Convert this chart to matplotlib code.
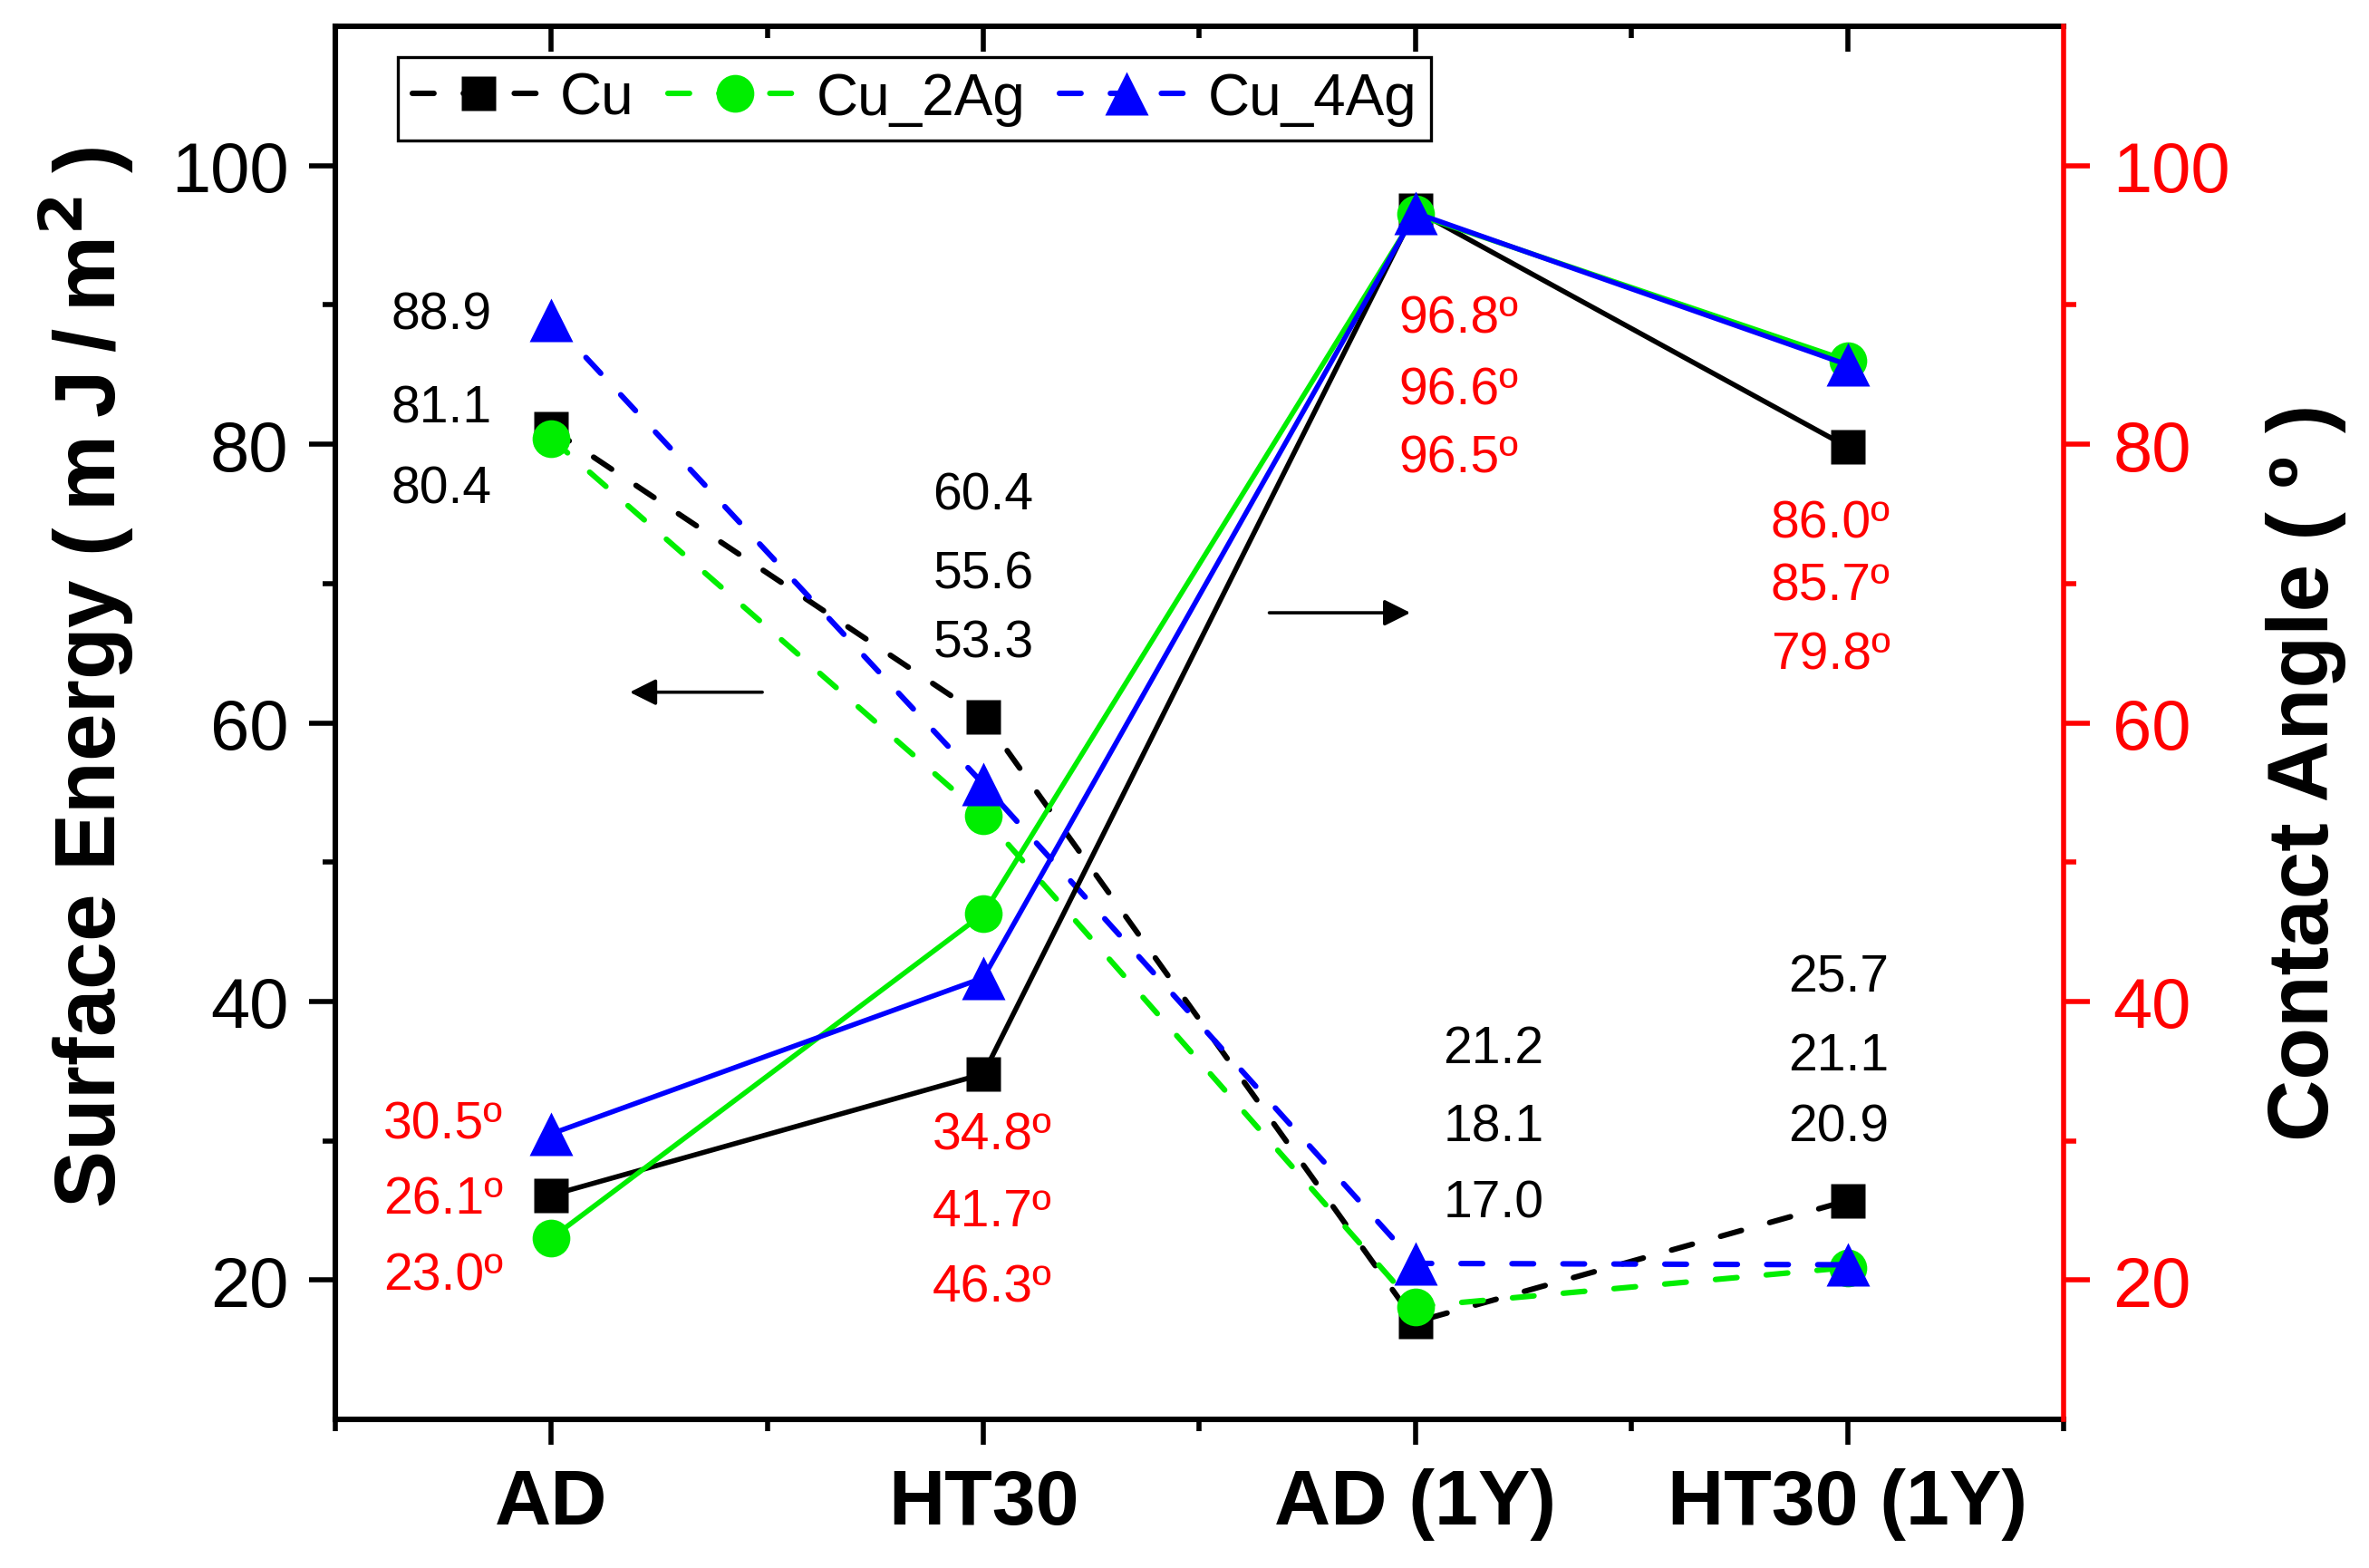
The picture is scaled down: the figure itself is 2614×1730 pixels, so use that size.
import numpy as np
import matplotlib
matplotlib.use('Agg')
import matplotlib.pyplot as plt

plt.rcParams['font.family'] = ['Liberation Sans', 'DejaVu Sans']

## data
cats = ['AD', 'HT30', 'AD (1Y)', 'HT30 (1Y)']
series = ['Cu', 'Cu_2Ag', 'Cu_4Ag']
colors = ['black', '#00ee00', '#0000ff']
markers = ['s', 'o', '^']
msizes = [13.5, 15, 17]

# surface energy (left axis, dashed)
se_cu = [81.1, 60.4, 17.0, 25.7]
se_2ag = [80.4, 53.3, 18.1, 20.9]
se_4ag = [88.9, 55.6, 21.2, 21.1]

# contact angle (right axis, solid)
ca_cu = [26.1, 34.8, 96.8, 79.8]
ca_2ag = [23.0, 46.3, 96.5, 86.0]
ca_4ag = [30.5, 41.7, 96.6, 85.7]

# label stacks
se_lbl_ad = ['88.9', '81.1', '80.4']
se_lbl_ht = ['60.4', '55.6', '53.3']
se_lbl_ad1 = ['21.2', '18.1', '17.0']
se_lbl_ht1 = ['25.7', '21.1', '20.9']
ca_lbl_ad = ['30.5º', '26.1º', '23.0º']
ca_lbl_ht = ['34.8º', '41.7º', '46.3º']
ca_lbl_ad1 = ['96.8º', '96.6º', '96.5º']
ca_lbl_ht1 = ['86.0º', '85.7º', '79.8º']

x = np.arange(1, len(cats) + 1)

fig = plt.figure(figsize=(13.07, 8.655), dpi=200)
ax = fig.add_axes([0.1415, 0.0947, 0.7296, 0.888])
ax2 = ax.twinx()

se_all = [se_cu, se_2ag, se_4ag]
ca_all = [ca_cu, ca_2ag, ca_4ag]
handles = []
for i in range(3):
    h, = ax.plot(x, se_all[i], ls=(0, (3.9, 5.3)), lw=2.2, color=colors[i],
                 dash_capstyle='round', marker=markers[i], ms=msizes[i],
                 mec='none', label=series[i], zorder=3)
    handles.append(h)
    ax2.plot(x, ca_all[i], ls='-', lw=2.0, color=colors[i],
             marker=markers[i], ms=msizes[i], mec='none', zorder=3)

for a in (ax, ax2):
    a.set_xlim(0.5, 4.5)
    a.set_ylim(10, 110)

ax.set_yticks([20, 40, 60, 80, 100])
ax.set_yticks([30, 50, 70, 90], minor=True)
ax2.set_yticks([20, 40, 60, 80, 100])
ax2.set_yticks([30, 50, 70, 90], minor=True)
ax.set_xticks(x)
ax.set_xticks([0.5, 1.5, 2.5, 3.5, 4.5], minor=True)
ax.set_xticklabels(cats, fontsize=31, fontweight='bold')

ax.tick_params(axis='y', which='major', labelsize=28, length=10.5, width=2, direction='out', pad=8)
ax.tick_params(axis='y', which='minor', length=5, width=2, direction='out')
ax.tick_params(axis='x', which='major', length=10, width=2, direction='out', pad=9)
ax.tick_params(axis='x', which='minor', length=4.5, width=2, direction='out')
ax2.tick_params(axis='y', which='major', labelsize=28, length=10.5, width=2,
                colors='red', direction='out', pad=9)
ax2.tick_params(axis='y', which='minor', length=5, width=2, colors='red', direction='out')

# top axis with inward ticks
top = ax.secondary_xaxis('top')
top.set_xticks(x)
top.set_xticks([1.5, 2.5, 3.5], minor=True)
top.set_xticklabels([])
top.tick_params(axis='x', which='major', length=10, width=2, direction='in')
top.tick_params(axis='x', which='minor', length=4.5, width=2, direction='in')
top.spines['top'].set_linewidth(2.2)

for s in ['left', 'bottom']:
    ax.spines[s].set_linewidth(2.2)
ax.spines['top'].set_visible(False)
ax.spines['right'].set_visible(False)
ax2.spines['top'].set_visible(False)
ax2.spines['bottom'].set_visible(False)
ax2.spines['left'].set_visible(False)
ax2.spines['right'].set_color('red')
ax2.spines['right'].set_linewidth(2.0)

ax.set_ylabel('Surface Energy (\u2009m\u2009J\u2009/\u2009m$^{\\mathbf{2}}$\u2009)', fontsize=34,
              fontweight='bold', labelpad=14)
ax2.set_ylabel('Contact Angle ( º )', fontsize=34, fontweight='bold', labelpad=14)
ax.yaxis.label.set_y(0.533)
ax2.yaxis.label.set_y(0.465)

# value labels
fs = 20.5
for lbls, xx, ys in [(se_lbl_ad, 0.745, [89.3, 82.6, 76.8]),
                     (se_lbl_ht, 2.0, [76.3, 70.7, 65.7]),
                     (se_lbl_ad1, 3.18, [36.6, 31.0, 25.5]),
                     (se_lbl_ht1, 3.98, [41.7, 36.1, 31.0])]:
    for t, yy in zip(lbls, ys):
        ax.text(xx, yy, t, fontsize=fs, color='black', ha='center', va='center')
for lbls, xx, ys in [(ca_lbl_ad, 0.75, [31.2, 25.8, 20.3]),
                     (ca_lbl_ht, 2.02, [30.4, 24.9, 19.5]),
                     (ca_lbl_ad1, 3.1, [89.0, 83.9, 79.0]),
                     (ca_lbl_ht1, 3.96, [74.3, 69.8, 64.9])]:
    for t, yy in zip(lbls, ys):
        ax.text(xx, yy, t, fontsize=fs, color='red', ha='center', va='center')

# axis arrows
ax.annotate('', xy=(1.17, 62.2), xytext=(1.50, 62.2),
            arrowprops=dict(arrowstyle='-|>', color='black', lw=1.3, mutation_scale=22))
ax.annotate('', xy=(3.0, 67.9), xytext=(2.65, 67.9),
            arrowprops=dict(arrowstyle='-|>', color='black', lw=1.3, mutation_scale=22))

leg = ax2.legend(handles=handles, loc='upper left', bbox_to_anchor=(0.036, 0.978),
                 borderaxespad=0, ncol=3, fontsize=23, fancybox=False, framealpha=1,
                 edgecolor='black', handlelength=2.3, columnspacing=0.6,
                 handletextpad=0.25, borderpad=0.25)
leg.get_frame().set_linewidth(1.2)

fig.savefig('out.png', dpi=200)
